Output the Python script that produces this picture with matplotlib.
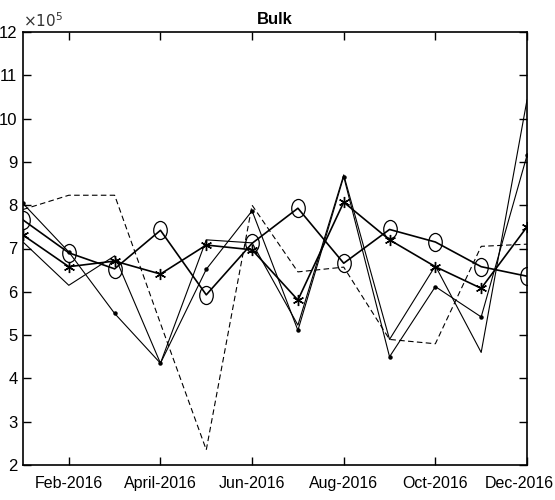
import numpy
import matplotlib
matplotlib.use('Agg')
import matplotlib.pyplot as plt
import matplotlib.transforms as mtrans
from matplotlib.path import Path

plt.rcParams['font.family'] = ['Liberation Sans Narrow', 'Liberation Sans', 'DejaVu Sans']

months = numpy.arange(1, 13)
tick_months = [2, 4, 6, 8, 10, 12]
tick_labels = ['Feb-2016', 'April-2016', 'Jun-2016', 'Aug-2016', 'Oct-2016', 'Dec-2016']

# values in units of 1e5
bulk_circle = [7.66, 6.90, 6.53, 7.42, 5.93, 7.12, 7.93, 6.66, 7.44, 7.15, 6.58, 6.36]
bulk_star = [7.31, 6.58, 6.71, 6.41, 7.08, 6.97, 5.81, 8.07, 7.20, 6.58, 6.08, 7.50]
bulk_dot = [8.04, 6.92, 5.50, 4.35, 6.52, 7.87, 5.11, 8.66, 4.50, 6.12, 5.42, 9.15]
bulk_plain = [7.15, 6.15, 6.83, 4.35, 7.20, 7.13, 5.23, 8.70, 4.90, 6.60, 4.60, 10.43]
bulk_dash = [7.90, 8.23, 8.23, 5.27, 2.35, 8.00, 6.46, 6.57, 4.90, 4.80, 7.05, 7.10]

# tall ellipse marker like the stretched matlab circles
circ = Path.unit_circle()
ellipse = Path(circ.vertices * [0.75, 1.0], circ.codes)

fig = plt.figure(figsize=(5.55, 5.0), dpi=100)
ax = fig.add_axes([23/555, 35/500, 504/555, 433/500])

ax.plot(months, bulk_dash, '--', color='k', lw=0.8, dashes=(5, 3))
ax.plot(months, bulk_plain, '-', color='k', lw=0.8)
ax.plot(months, bulk_dot, '-', color='k', lw=0.8, marker='o', ms=2.2)
ax.plot(months, bulk_star, '-', color='k', lw=1.2, marker=(6, 2, 0), ms=8, mew=1.0)
ax.plot(months, bulk_circle, '-', color='k', lw=1.2, marker=ellipse, ms=13, mfc='none', mew=0.9)

ax.set_xlim(1, 12)
ax.set_ylim(2, 12)
ax.set_xticks(tick_months)
ax.set_xticklabels(tick_labels)
ax.set_yticks(range(2, 13))
ax.tick_params(direction='in', top=True, right=True, labelsize=12, length=6, width=1, pad=4)
ax.tick_params(axis='x', labelsize=11.5, pad=8)
for s in ax.spines.values():
    s.set_linewidth(1.2)

# last label hugs the right edge so it is not cut off
last = ax.get_xticklabels()[-1]
last.set_horizontalalignment('right')
last.set_transform(last.get_transform() + mtrans.ScaledTranslation(27/100, 0, fig.dpi_scale_trans))

ax.text(0.0, 1.005, r'$\times10^5$', transform=ax.transAxes, fontsize=11, ha='left', va='bottom',
        color='#333333')
ax.set_title('Bulk', fontsize=12, fontweight='bold', pad=6)

fig.savefig('out.png', dpi=100)
